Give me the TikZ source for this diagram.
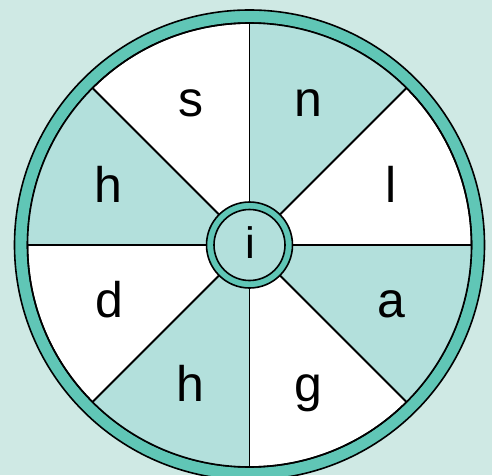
\documentclass[tikz,border=0pt]{standalone}
\usepackage{fontspec}
\setmainfont{Liberation Sans}
\usetikzlibrary{calc}
\definecolor{bgc}{RGB}{207,233,228}
\definecolor{ringc}{RGB}{96,198,182}
\definecolor{lightc}{RGB}{179,224,220}
\tikzset{
  lbl/.style={anchor=base, inner sep=0pt, font=\fontsize{50}{60}\selectfont},
  clbl/.style={anchor=base, inner sep=0pt, font=\fontsize{44}{52}\selectfont},
  edge/.style={draw=black, line width=1.6pt},
  spoke/.style={draw=black, line width=1.8pt}
}
\begin{document}
\begin{tikzpicture}[x=1pt,y=1pt]
\useasboundingbox (0,0) rectangle (492,475);
\clip (0,0) rectangle (492,475);
\fill[bgc] (0,0) rectangle (492,475);
\coordinate (c) at (249.5,230);
% outer ring
\filldraw[fill=ringc, edge] (c) circle (235);
\filldraw[fill=white, edge] (c) circle (222);
% shaded sectors
\foreach \a in {45,135,225,315}{
  \fill[lightc] (c) -- ++(\a:222) arc[start angle=\a, end angle=\a+45, radius=222] -- cycle;
}
\draw[edge] (c) circle (222);
% spokes
\foreach \a in {0,45,...,315}{
  \draw[spoke] ($(c)+(\a:40)$) -- ($(c)+(\a:222)$);
}
% center hub
\filldraw[fill=ringc, edge] (c) circle (43);
\filldraw[fill=lightc, edge] (c) circle (35.5);
% labels
\node[lbl] (s) at (191,358.3) {s};
\node[lbl] (n) at (308,358.3) {n};
\node[lbl] (h1) at (108.5,272.5) {h};
\node[lbl] (l) at (391.5,272.5) {l};
\node[lbl] (d) at (109,157.5) {d};
\node[lbl] (a) at (391,157.5) {a};
\node[lbl] (h2) at (190.5,73.3) {h};
\node[lbl] (g) at (308,73.3) {g};
\node[clbl] (i) at (250,217) {i};
\end{tikzpicture}
\end{document}
